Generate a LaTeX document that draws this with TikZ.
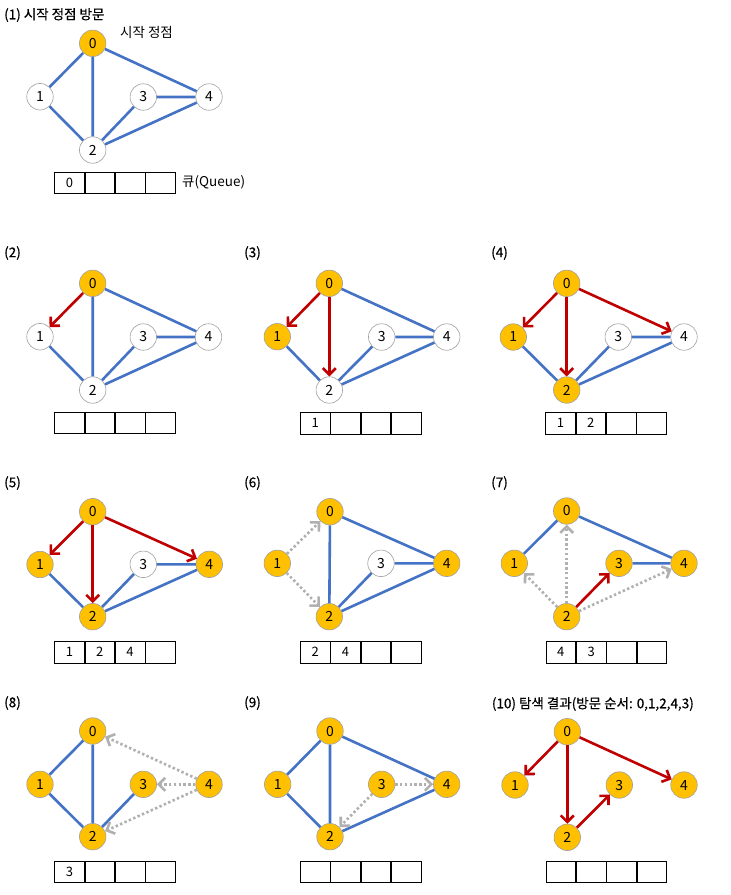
\documentclass[tikz,border=0pt]{standalone}
\usepackage{fontspec}
\setmainfont{Noto Sans CJK KR}
\newfontfamily\krb[FakeBold=0.5]{Noto Sans CJK KR}
\usetikzlibrary{arrows.meta}
\definecolor{gold}{HTML}{FFC000}
\definecolor{eblue}{HTML}{4472C4}
\definecolor{ered}{HTML}{C00000}
\definecolor{egray}{HTML}{B0B0B0}
\definecolor{nbord}{HTML}{A0A0A0}
\newcommand\qrow[7]{%
  \node[qcell, anchor=north west] (#1a) at (#2,#3) {#4};
  \node[qcell, anchor=west] (#1b) at (#1a.east) {#5};
  \node[qcell, anchor=west] (#1c) at (#1b.east) {#6};
  \node[qcell, anchor=west] (#1d) at (#1c.east) {#7};}
\begin{document}
\begin{tikzpicture}[x=1pt,y=-1pt,
  vtx/.style={circle, draw=nbord, line width=0.6pt, fill=white, minimum size=26.5pt, inner sep=0pt, font=\fontsize{14}{14}\selectfont},
  vis/.style={vtx, fill=gold},
  be/.style={eblue, line width=2.6pt},
  re/.style={ered, line width=2.6pt, -{Straight Barb[length=6.5pt,width=13pt]}},
  ge/.style={egray, line width=2.6pt, dash pattern=on 2.4pt off 2.4pt, -{Straight Barb[length=6.5pt,width=13pt]}},
  qcell/.style={draw=black, line width=0.7pt, minimum width=29.6pt, minimum height=21.6pt, inner sep=0pt, font=\fontsize{13}{13}\selectfont},
  ttl/.style={anchor=west, inner sep=0pt, font=\fontsize{13.5}{15}\selectfont\krb},
  lbl/.style={anchor=west, inner sep=0pt, font=\fontsize{13.5}{15}\selectfont},
]
\fill[white] (0,0) rectangle (731,895);
\useasboundingbox (0,0) rectangle (731,895);

% ---------- (1)
\node[ttl] (t1) at (4,15) {(1) 시작 정점 방문};
\node[vis] (a0) at (92.7,43.3) {0};
\node[vtx] (a1) at (40,96.7) {1};
\node[vtx] (a3) at (143.3,97) {3};
\node[vtx] (a4) at (209,97) {4};
\node[vtx] (a2) at (92.7,150) {2};
\draw[be] (a0)--(a1) (a0)--(a2) (a0)--(a4) (a1)--(a2) (a2)--(a3) (a2)--(a4) (a3)--(a4);
\node[lbl] (s1) at (120,32) {시작 정점};
\qrow{qa}{54.3}{171.7}{0}{}{}{}
\node[lbl] (qlab) at (182,182) {큐(Queue)};

% ---------- (2)
\node[ttl] (t2) at (4,253) {(2)};
\node[vis] (b0) at (92.7,283.3) {0};
\node[vtx] (b1) at (40,336.7) {1};
\node[vtx] (b3) at (143.3,337) {3};
\node[vtx] (b4) at (208.5,337) {4};
\node[vtx] (b2) at (92.7,390) {2};
\draw[be] (b0)--(b2) (b0)--(b4) (b1)--(b2) (b2)--(b3) (b2)--(b4) (b3)--(b4);
\draw[re] (b0)--(b1);
\qrow{qb}{54.3}{411.7}{}{}{}{}

% ---------- (3)
\node[ttl] (t3) at (244,253) {(3)};
\node[vis] (c0) at (329.3,283.3) {0};
\node[vis] (c1) at (277.3,336.7) {1};
\node[vtx] (c3) at (381.7,337) {3};
\node[vtx] (c4) at (446.7,337) {4};
\node[vtx] (c2) at (329.3,390) {2};
\draw[be] (c0)--(c4) (c1)--(c2) (c2)--(c3) (c2)--(c4) (c3)--(c4);
\draw[re] (c0)--(c1);
\draw[re] (c0)--(c2);
\qrow{qc}{300}{412}{1}{}{}{}

% ---------- (4)
\node[ttl] (t4) at (491,253) {(4)};
\node[vis] (d0) at (566.7,283.3) {0};
\node[vis] (d1) at (513.3,337) {1};
\node[vtx] (d3) at (618.3,337) {3};
\node[vtx] (d4) at (684,337) {4};
\node[vis] (d2) at (566.7,390) {2};
\draw[be] (d1)--(d2) (d2)--(d3) (d2)--(d4) (d3)--(d4);
\draw[re] (d0)--(d1);
\draw[re] (d0)--(d2);
\draw[re] (d0)--(d4);
\qrow{qd}{545.3}{412}{1}{2}{}{}

% ---------- (5)
\node[ttl] (t5) at (4,483) {(5)};
\node[vis] (e0) at (92.7,511.7) {0};
\node[vis] (e1) at (40,564.5) {1};
\node[vtx] (e3) at (143.3,564.3) {3};
\node[vis] (e4) at (209.3,564.3) {4};
\node[vis] (e2) at (92.7,616.7) {2};
\draw[be] (e1)--(e2) (e2)--(e3) (e2)--(e4) (e3)--(e4);
\draw[re] (e0)--(e1);
\draw[re] (e0)--(e2);
\draw[re] (e0)--(e4);
\qrow{qe}{54.3}{641}{1}{2}{4}{}

% ---------- (6)
\node[ttl] (t6) at (244,483) {(6)};
\node[vis] (f0) at (330,511.7) {0};
\node[vis] (f1) at (277.3,563.3) {1};
\node[vtx] (f3) at (381,563.3) {3};
\node[vis] (f4) at (446.7,563.3) {4};
\node[vis] (f2) at (329.3,616.7) {2};
\draw[be] (f0)--(f2) (f0)--(f4) (f2)--(f3) (f2)--(f4) (f3)--(f4);
\draw[ge] (f1)--(f0);
\draw[ge] (f1)--(f2);
\qrow{qf}{300}{641}{2}{4}{}{}

% ---------- (7)
\node[ttl] (t7) at (491,483) {(7)};
\node[vis] (g0) at (566.7,511) {0};
\node[vis] (g1) at (514.3,563.3) {1};
\node[vis] (g3) at (619,563.3) {3};
\node[vis] (g4) at (684,563.3) {4};
\node[vis] (g2) at (566.7,616.7) {2};
\draw[be] (g0)--(g1) (g0)--(g4) (g3)--(g4);
\draw[re] (g2)--(g3);
\draw[ge] (g2)--(g0);
\draw[ge] (g2)--(g1);
\draw[ge] (g2)--(g4);
\qrow{qg}{545.7}{641}{4}{3}{}{}

% ---------- (8)
\node[ttl] (t8) at (4,703) {(8)};
\node[vis] (h0) at (92.7,731) {0};
\node[vis] (h1) at (40,784.3) {1};
\node[vis] (h3) at (143.3,784.3) {3};
\node[vis] (h4) at (209,784.3) {4};
\node[vis] (h2) at (92.7,836.7) {2};
\draw[be] (h0)--(h1) (h0)--(h2) (h1)--(h2) (h2)--(h3);
\draw[ge] (h4)--(h0);
\draw[ge] (h4)--(h3);
\draw[ge] (h4)--(h2);
\qrow{qh}{54.3}{860.7}{3}{}{}{}

% ---------- (9)
\node[ttl] (t9) at (244,703) {(9)};
\node[vis] (i0) at (330,731) {0};
\node[vis] (i1) at (277.7,784.3) {1};
\node[vis] (i3) at (381.7,784.3) {3};
\node[vis] (i4) at (446.7,784.3) {4};
\node[vis] (i2) at (330,836.7) {2};
\draw[be] (i0)--(i1) (i0)--(i2) (i0)--(i4) (i1)--(i2) (i2)--(i4);
\draw[ge] (i3)--(i4);
\draw[ge] (i3)--(i2);
\qrow{qi}{300}{860.7}{}{}{}{}

% ---------- (10)
\node[ttl] (t10) at (491.7,704) {(10) 탐색 결과(방문 순서: 0,1,2,4,3)};
\node[vis] (j0) at (567.3,731.7) {0};
\node[vis] (j1) at (515,785) {1};
\node[vis] (j3) at (619.3,785) {3};
\node[vis] (j4) at (684,785) {4};
\node[vis] (j2) at (567.3,837.3) {2};
\draw[re] (j0)--(j1);
\draw[re] (j0)--(j2);
\draw[re] (j0)--(j4);
\draw[re] (j2)--(j3);
\qrow{qj}{545.7}{860.7}{}{}{}{}
\end{tikzpicture}
\end{document}
